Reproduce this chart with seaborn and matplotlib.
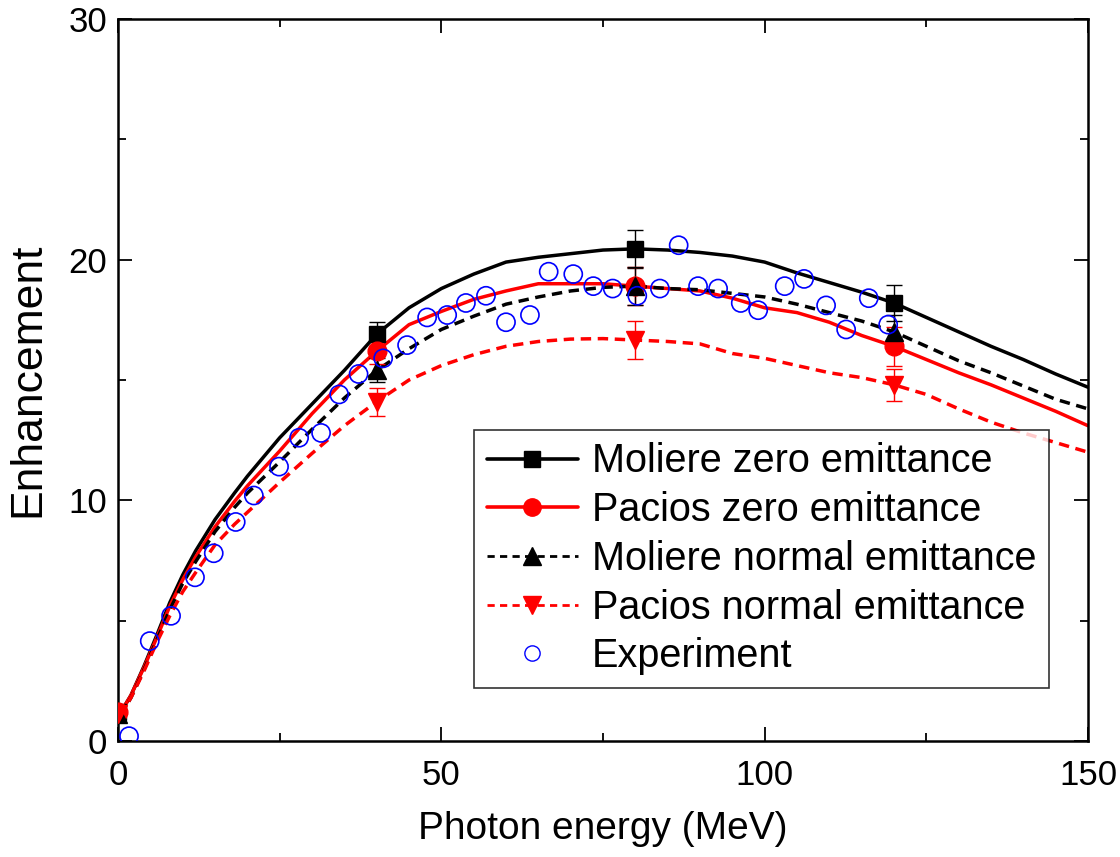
import matplotlib
matplotlib.use("Agg")
import numpy as np
import pandas as pd
import seaborn as sns
import matplotlib.pyplot as plt
from matplotlib.lines import Line2D
from matplotlib.ticker import MultipleLocator

sns.set_theme(style="ticks")
plt.rcParams["font.family"] = ["Liberation Sans", "DejaVu Sans"]
for key in ("text.color", "axes.labelcolor", "xtick.color", "ytick.color",
            "axes.edgecolor"):
    plt.rcParams[key] = "black"

# Calculated enhancement curves (photon energy in MeV)
energy = [0, 1, 2, 4, 6, 8, 10, 12, 15, 18, 20, 25, 30, 35, 40, 45, 50, 55,
          60, 65, 70, 75, 80, 85, 90, 95, 100, 105, 110, 115, 120, 125, 130,
          135, 140, 145, 150]
moliere_zero = [1.2, 1.45, 1.9, 3.1, 4.4, 5.75, 6.9, 7.9, 9.2, 10.3, 11.0,
                12.6, 14.0, 15.4, 16.9, 18.0, 18.8, 19.4, 19.9, 20.1, 20.25,
                20.4, 20.45, 20.4, 20.3, 20.15, 19.9, 19.45, 19.05, 18.65,
                18.2, 17.6, 17.0, 16.4, 15.85, 15.25, 14.7]
pacios_zero = [1.2, 1.45, 1.9, 3.05, 4.3, 5.6, 6.7, 7.65, 8.9, 9.95, 10.6,
               12.05, 13.6, 15.0, 16.2, 17.3, 17.85, 18.35, 18.7, 19.0, 19.0,
               19.0, 18.9, 18.8, 18.7, 18.4, 18.0, 17.8, 17.4, 16.85, 16.4,
               15.85, 15.3, 14.8, 14.25, 13.7, 13.1]
moliere_normal = [1.1, 1.35, 1.8, 2.95, 4.2, 5.45, 6.55, 7.45, 8.7, 9.7,
                  10.3, 11.6, 12.95, 14.25, 15.4, 16.3, 17.1, 17.65, 18.15,
                  18.45, 18.7, 18.85, 18.9, 18.8, 18.75, 18.6, 18.45, 18.15,
                  17.8, 17.45, 17.0, 16.4, 15.8, 15.3, 14.75, 14.2, 13.8]
pacios_normal = [1.1, 1.35, 1.8, 2.9, 4.1, 5.2, 6.2, 7.0, 8.15, 9.0, 9.5,
                 10.75, 11.95, 13.1, 14.1, 15.0, 15.6, 16.05, 16.4, 16.6, 16.7,
                 16.72, 16.66, 16.6, 16.5, 16.1, 15.9, 15.6, 15.3, 15.1, 14.8,
                 14.4, 13.8, 13.25, 12.8, 12.4, 12.0]

# Marked calculation points with their uncertainties
mark_energy = [0, 40, 80, 120]
moliere_zero_pts = [1.2, 16.9, 20.45, 18.2]
moliere_zero_err = [0.15, 0.5, 0.8, 0.75]
pacios_zero_pts = [1.2, 16.2, 18.9, 16.4]
pacios_zero_err = [0.15, 0.55, 0.8, 0.8]
moliere_normal_pts = [1.1, 15.4, 18.9, 17.0]
moliere_normal_err = [0.15, 0.5, 0.8, 0.7]
pacios_normal_pts = [1.1, 14.1, 16.66, 14.8]
pacios_normal_err = [0.15, 0.58, 0.8, 0.67]

# Measured enhancement
exp_energy = [1.7, 4.9, 8.2, 11.9, 14.8, 18.2, 21.0, 24.9, 28.0, 31.4, 34.2,
              37.2, 41.0, 44.7, 47.8, 50.9, 53.8, 56.9, 60.0, 63.7, 66.6, 70.4,
              73.5, 76.5, 80.3, 83.8, 86.7, 89.7, 92.8, 96.3, 99.0, 103.1,
              106.1, 109.5, 112.6, 116.1, 119.1]
exp_enh = [0.2, 4.15, 5.2, 6.8, 7.8, 9.1, 10.2, 11.4, 12.6, 12.8, 14.4, 15.25,
           15.9, 16.45, 17.6, 17.7, 18.2, 18.5, 17.4, 17.7, 19.5, 19.4, 18.9,
           18.8, 18.5, 18.8, 20.6, 18.9, 18.8, 18.2, 17.9, 18.9, 19.2, 18.1,
           17.1, 18.4, 17.3]

labels = ["Moliere zero emittance", "Pacios zero emittance",
          "Moliere normal emittance", "Pacios normal emittance"]
colors = {labels[0]: "black", labels[1]: "red",
          labels[2]: "black", labels[3]: "red"}
dash_styles = {labels[0]: "", labels[1]: "",
               labels[2]: (3.0, 1.9), labels[3]: (3.0, 1.9)}
markers = ["s", "o", "^", "v"]
mark_vals = [moliere_zero_pts, pacios_zero_pts, moliere_normal_pts,
             pacios_normal_pts]
mark_errs = [moliere_zero_err, pacios_zero_err, moliere_normal_err,
             pacios_normal_err]
marker_sizes = [12, 13.5, 13.5, 13.5]

curves = pd.concat([
    pd.DataFrame({"energy": energy, "enh": vals, "model": lab})
    for lab, vals in zip(labels, [moliere_zero, pacios_zero, moliere_normal,
                                  pacios_normal])
])
experiment = pd.DataFrame({"energy": exp_energy, "enh": exp_enh})

fig, ax = plt.subplots(figsize=(11.2, 8.57), dpi=100)
fig.subplots_adjust(left=0.1054, right=0.9714, bottom=0.1354, top=0.9778)

sns.lineplot(data=curves, x="energy", y="enh", hue="model", style="model",
             palette=colors, dashes=dash_styles, linewidth=2.5, ax=ax,
             legend=False, sort=False)

for lab, mk, vals, errs, ms in zip(labels, markers, mark_vals, mark_errs,
                                   marker_sizes):
    ax.errorbar(mark_energy, vals, yerr=errs, fmt=mk, color=colors[lab],
                ms=ms, elinewidth=1.0, capsize=6, capthick=1.0, zorder=3)

sns.scatterplot(data=experiment, x="energy", y="enh", marker="o", s=170,
                facecolor="none", edgecolor="#0000ff", linewidth=1.2, ax=ax,
                zorder=4)

ax.set_xlim(0, 150)
ax.set_ylim(0, 30)
ax.xaxis.set_major_locator(MultipleLocator(50))
ax.xaxis.set_minor_locator(MultipleLocator(25))
ax.yaxis.set_major_locator(MultipleLocator(10))
ax.yaxis.set_minor_locator(MultipleLocator(5))
ax.tick_params(which="both", direction="in", top=True, right=True,
               width=1.3, colors="black")
ax.tick_params(which="major", length=10)
ax.tick_params(which="minor", length=5.5)
ax.tick_params(axis="x", labelsize=25, pad=13)
ax.tick_params(axis="y", labelsize=25, pad=8)
for sp in ax.spines.values():
    sp.set_linewidth(1.8)
    sp.set_color("black")

ax.set_xlabel("Photon energy (MeV)", fontsize=28, labelpad=14)
ax.set_ylabel("Enhancement", fontsize=32, labelpad=14)

handles = [
    Line2D([], [], color="black", lw=2.6, marker="s", ms=11),
    Line2D([], [], color="red", lw=2.6, marker="o", ms=12.5),
    Line2D([], [], color="black", lw=2.0, ls=(0, (2.6, 1.9)), marker="^",
           ms=12.5),
    Line2D([], [], color="red", lw=2.0, ls=(0, (2.6, 1.9)), marker="v",
           ms=12.5),
    Line2D([], [], ls="none", marker="o", ms=11, mfc="none", mec="#0000ff",
           mew=1.0),
]
leg = ax.legend(handles, labels + ["Experiment"], loc="upper left",
                bbox_to_anchor=(0.367, 0.431), borderaxespad=0, fontsize=28.5,
                frameon=True, fancybox=False, edgecolor="black",
                handlelength=2.3, handletextpad=0.36, labelspacing=0.27,
                borderpad=0.32, numpoints=1)
leg.get_frame().set_linewidth(1.2)

fig.savefig("out.png", dpi=100)
